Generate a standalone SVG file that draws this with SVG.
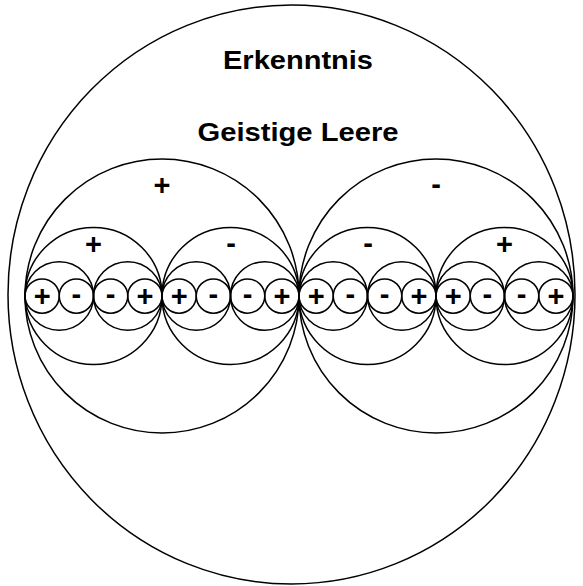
<svg xmlns="http://www.w3.org/2000/svg" width="583" height="586" viewBox="0 0 583 586">
<style>
.c{fill:none;stroke:#000;stroke-width:1.5}
.t{font-family:"Liberation Sans",Arial,sans-serif;font-weight:bold;font-size:26px;fill:#000;text-anchor:middle}
.s{font-family:"Liberation Sans",Arial,sans-serif;font-weight:bold;font-size:29px;fill:#000;text-anchor:middle}
</style>
<rect width="583" height="586" fill="#fff"/>
<g id="outer">
<ellipse class="c" cx="291.5" cy="294.5" rx="283.5" ry="289.5"/>
<text class="t" x="298" y="69" textLength="150" lengthAdjust="spacingAndGlyphs">Erkenntnis</text>
<text class="t" x="298" y="140.5" textLength="201" lengthAdjust="spacingAndGlyphs">Geistige Leere</text>
</g>
<g id="big1"><circle class="c" cx="162" cy="296" r="137"/><text class="s" x="162" y="195">+</text></g>
<g id="big2"><circle class="c" cx="436" cy="296" r="137"/><text class="s" x="436" y="194">-</text></g>
<g id="med1"><circle class="c" cx="93.5" cy="296" r="68.5"/><text class="s" x="93.5" y="254">+</text></g>
<g id="med2"><circle class="c" cx="230.5" cy="296" r="68.5"/><text class="s" x="231" y="253">-</text></g>
<g id="med3"><circle class="c" cx="367.5" cy="296" r="68.5"/><text class="s" x="368" y="253">-</text></g>
<g id="med4"><circle class="c" cx="504.5" cy="296" r="68.5"/><text class="s" x="504.5" y="254">+</text></g>
<g id="small">
<circle class="c" cx="59.25" cy="296" r="34.25"/>
<circle class="c" cx="127.75" cy="296" r="34.25"/>
<circle class="c" cx="196.25" cy="296" r="34.25"/>
<circle class="c" cx="264.75" cy="296" r="34.25"/>
<circle class="c" cx="333.25" cy="296" r="34.25"/>
<circle class="c" cx="401.75" cy="296" r="34.25"/>
<circle class="c" cx="470.25" cy="296" r="34.25"/>
<circle class="c" cx="538.75" cy="296" r="34.25"/>
</g>
<g id="tiny">
<circle class="c" cx="42.125" cy="296" r="17.125"/><text class="s" x="42.125" y="306">+</text>
<circle class="c" cx="76.375" cy="296" r="17.125"/><text class="s" x="76.375" y="304">-</text>
<circle class="c" cx="110.625" cy="296" r="17.125"/><text class="s" x="110.625" y="304">-</text>
<circle class="c" cx="144.875" cy="296" r="17.125"/><text class="s" x="144.875" y="306">+</text>
<circle class="c" cx="179.125" cy="296" r="17.125"/><text class="s" x="179.125" y="306">+</text>
<circle class="c" cx="213.375" cy="296" r="17.125"/><text class="s" x="213.375" y="304">-</text>
<circle class="c" cx="247.625" cy="296" r="17.125"/><text class="s" x="247.625" y="304">-</text>
<circle class="c" cx="281.875" cy="296" r="17.125"/><text class="s" x="281.875" y="306">+</text>
<circle class="c" cx="316.125" cy="296" r="17.125"/><text class="s" x="316.125" y="306">+</text>
<circle class="c" cx="350.375" cy="296" r="17.125"/><text class="s" x="350.375" y="304">-</text>
<circle class="c" cx="384.625" cy="296" r="17.125"/><text class="s" x="384.625" y="304">-</text>
<circle class="c" cx="418.875" cy="296" r="17.125"/><text class="s" x="418.875" y="306">+</text>
<circle class="c" cx="453.125" cy="296" r="17.125"/><text class="s" x="453.125" y="306">+</text>
<circle class="c" cx="487.375" cy="296" r="17.125"/><text class="s" x="487.375" y="304">-</text>
<circle class="c" cx="521.625" cy="296" r="17.125"/><text class="s" x="521.625" y="304">-</text>
<circle class="c" cx="555.875" cy="296" r="17.125"/><text class="s" x="555.875" y="306">+</text>
</g>
</svg>
